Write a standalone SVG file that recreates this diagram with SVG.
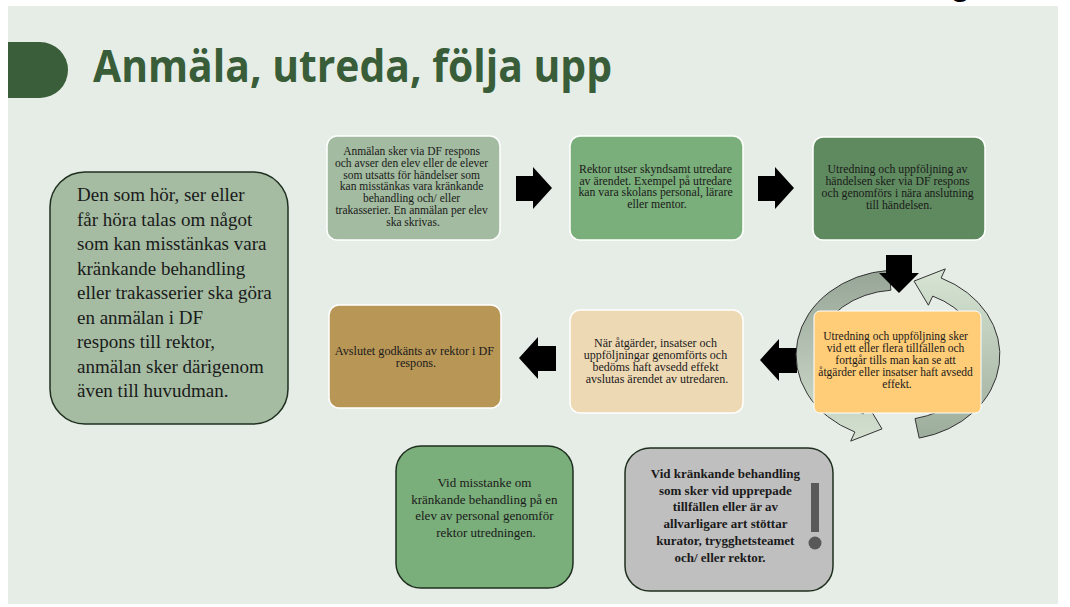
<svg xmlns="http://www.w3.org/2000/svg" width="1070" height="607" viewBox="0 0 1070 607">
<style>
.t{font-family:"Liberation Serif","Times New Roman",serif;fill:#1a1a1a;text-anchor:middle}
.wb{stroke:#ffffff;stroke-width:1.5}
.db{stroke:#1f2f1f;stroke-width:1.5}
.blk{fill:#000000}
.cyc{stroke:#333333;stroke-width:1}
</style>
<defs>
<linearGradient id="gl" gradientUnits="userSpaceOnUse" x1="0" y1="270" x2="0" y2="445">
<stop offset="0" stop-color="#97a597"/><stop offset="1" stop-color="#d6e3d3"/>
</linearGradient>
<linearGradient id="gr" gradientUnits="userSpaceOnUse" x1="0" y1="440" x2="0" y2="265">
<stop offset="0" stop-color="#9cac9a"/><stop offset="1" stop-color="#d9e6d6"/>
</linearGradient>
<clipPath id="topclip"><rect x="0" y="0" width="1070" height="6"/></clipPath>
</defs>
<rect x="0" y="0" width="1070" height="607" fill="#ffffff"/>
<rect x="8" y="6" width="1050" height="598" fill="#e6ede6"/>
<text x="950" y="-5" clip-path="url(#topclip)" font-family="Liberation Sans,sans-serif" font-weight="bold" font-size="34" fill="#000">g</text>

<g id="title">
<path d="M8,42 H40 A28,28 0 0 1 40,98 H8 Z" fill="#3a5e3a"/>
<text x="93" y="82" font-family="Open Sans,sans-serif" font-weight="bold" font-size="45" fill="#385d38" textLength="519" lengthAdjust="spacingAndGlyphs">Anmäla, utreda, följa upp</text>
</g>

<g id="node-left">
<rect x="50" y="172" width="238" height="252" rx="35" fill="#a5bca2" class="db"/>
<text class="t" style="text-anchor:start" font-size="19">
<tspan x="77" y="201">Den som hör, ser eller</tspan>
<tspan x="77" y="225.5">får höra talas om något</tspan>
<tspan x="77" y="250">som kan misstänkas vara</tspan>
<tspan x="77" y="274.6">kränkande behandling</tspan>
<tspan x="77" y="299.2">eller trakasserier ska göra</tspan>
<tspan x="77" y="323.7">en anmälan i DF</tspan>
<tspan x="77" y="348.3">respons till rektor,</tspan>
<tspan x="77" y="372.8">anmälan sker därigenom</tspan>
<tspan x="77" y="397.3">även till huvudman.</tspan>
</text>
</g>

<g id="node-anmalan">
<rect x="327" y="136" width="173" height="104" rx="10" fill="#a3bba0" class="wb"/>
<text class="t" font-size="11.5">
<tspan x="413" y="155">Anmälan sker via DF respons</tspan>
<tspan x="413" y="166.8">och avser den elev eller de elever</tspan>
<tspan x="413" y="178.6">som utsatts för händelser som</tspan>
<tspan x="413" y="190.4">kan misstänkas vara kränkande</tspan>
<tspan x="413" y="202.2">behandling och/ eller</tspan>
<tspan x="413" y="214">trakasserier. En anmälan per elev</tspan>
<tspan x="413" y="225.8">ska skrivas.</tspan>
</text>
</g>

<g id="node-rektor">
<rect x="570" y="136" width="173" height="104" rx="10" fill="#7aae7a" class="wb"/>
<text class="t" font-size="11.8">
<tspan x="657" y="173">Rektor utser skyndsamt utredare</tspan>
<tspan x="657" y="184.7">av ärendet. Exempel på utredare</tspan>
<tspan x="657" y="196.4">kan vara skolans personal, lärare</tspan>
<tspan x="657" y="208">eller mentor.</tspan>
</text>
</g>

<g id="node-utredning">
<rect x="813" y="137" width="172" height="103" rx="10" fill="#5f8a5f" class="wb"/>
<text class="t" font-size="11.8">
<tspan x="899" y="173">Utredning och uppföljning av</tspan>
<tspan x="899" y="185">händelsen sker via DF respons</tspan>
<tspan x="899" y="197">och genomförs i nära anslutning</tspan>
<tspan x="899" y="209">till händelsen.</tspan>
</text>
</g>

<g id="connectors">
<path class="blk" d="M516,176 H533 V167 L552,188 L533,209 V201 H516 Z"/>
<path class="blk" d="M758,176 H775 V167 L794,188 L775,209 V201 H758 Z"/>
<path class="blk" d="M556,346 H538 V337 L519,358 L538,379 V371 H556 Z"/>
<path class="blk" d="M797,348 H779 V339 L760,360 L779,381 V373 H797 Z"/>
<path class="cyc" fill="url(#gl)" d="M889.1,270.3 A102,85 0 0 0 854.9,432 L850.7,441.1 L882,428.9 L867.6,404.8 L863.3,413.9 A82,65 0 0 1 890.9,290.2 Z"/>
<path class="cyc" fill="url(#gr)" d="M919.2,438.1 A102,85 0 0 0 941.1,278 L945.3,268.9 L914,281.1 L928.4,305.2 L932.7,296.1 A82,65 0 0 1 915,418.6 Z"/>
<path class="blk" d="M886,255 H912 V273 H919 L899,293 L879,273 H886 Z"/>
</g>

<g id="node-cykel">
<rect x="814" y="311" width="167" height="102" rx="6" fill="#ffcc77" stroke="#ffffff" stroke-width="1"/>
<text class="t" font-size="11.5">
<tspan x="897" y="340">Utredning och uppföljning sker</tspan>
<tspan x="897" y="352">vid ett eller flera tillfällen och</tspan>
<tspan x="897" y="364">fortgår tills man kan se att</tspan>
<tspan x="897" y="376">åtgärder eller insatser haft avsedd</tspan>
<tspan x="897" y="388">effekt.</tspan>
</text>
</g>

<g id="node-nar">
<rect x="570" y="310" width="173" height="103" rx="10" fill="#eed9b5" class="wb"/>
<text class="t" font-size="12">
<tspan x="657" y="347">När åtgärder, insatser och</tspan>
<tspan x="657" y="359">uppföljningar genomförts och</tspan>
<tspan x="657" y="371">bedöms haft avsedd effekt</tspan>
<tspan x="657" y="383">avslutas ärendet av utredaren.</tspan>
</text>
</g>

<g id="node-avslutet">
<rect x="329" y="305" width="172" height="103" rx="10" fill="#b89656" class="wb"/>
<text class="t" font-size="12.2">
<tspan x="416" y="355">Avslutet godkänts av rektor i DF</tspan>
<tspan x="416" y="367">respons.</tspan>
</text>
</g>

<g id="node-personal">
<rect x="396" y="446" width="177" height="142" rx="25" fill="#7aae7a" class="db"/>
<text class="t" font-size="13">
<tspan x="486" y="487">Vid misstanke om</tspan>
<tspan x="486" y="503.7">kränkande behandling på en</tspan>
<tspan x="486" y="520.3">elev av personal genomför</tspan>
<tspan x="486" y="537">rektor utredningen.</tspan>
</text>
</g>

<g id="node-upprepade">
<rect x="625" y="448" width="208" height="143" rx="25" fill="#bfbfbf" class="db"/>
<text class="t" font-size="13" font-weight="bold">
<tspan x="727" y="477.7">Vid kränkande behandling</tspan>
<tspan x="727" y="494.5">som sker vid upprepade</tspan>
<tspan x="727" y="511.3">tillfällen eller är av</tspan>
<tspan x="727" y="528.1">allvarligare art stöttar</tspan>
<tspan x="727" y="544.9">kurator, trygghetsteamet</tspan>
<tspan x="720" y="561.7">och/ eller rektor.</tspan>
</text>
<rect x="811" y="483" width="8" height="49" fill="#595959"/>
<circle cx="815" cy="543" r="6.5" fill="#595959"/>
</g>
</svg>
